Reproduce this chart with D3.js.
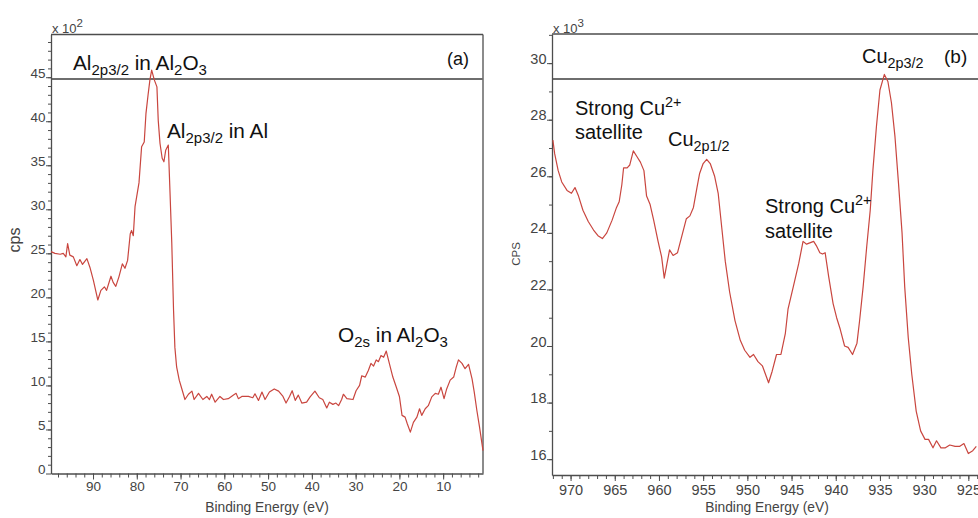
<!DOCTYPE html>
<html>
<head>
<meta charset="utf-8">
<script src="https://cdn.jsdelivr.net/npm/d3@7"></script>
<style>
  body { margin: 0; background: #fff; }
  svg { display: block; font-family: "Liberation Sans", Arial, sans-serif; }
</style>
</head>
<body>
<svg id="chart" width="978" height="518"></svg>
<script>
// (a) Al 2p / O 2s survey, counts in x10^2
const energyA = [99.6, 98.7, 97.5, 96.8, 96.2, 95.8, 95.3, 94.5, 93.7, 93.0,
  92.4, 91.4, 90.7, 89.9, 88.9, 88.2, 87.4, 86.9, 85.9, 85.4,
  84.8, 84.1, 83.3, 82.7, 82.1, 81.5, 81.2, 80.8, 80.4, 79.5,
  78.9, 78.3, 77.9, 77.4, 77.0, 76.6, 76.0, 75.4, 75.1, 74.7,
  74.2, 73.8, 73.4, 72.8, 72.4, 72.0, 71.6, 71.3, 70.9, 70.3,
  69.7, 69.0, 68.2, 67.4, 66.9, 65.9, 64.9, 64.0, 63.4, 62.9,
  62.1, 61.0, 60.2, 59.1, 57.9, 57.3, 56.8, 56.0, 54.5, 53.5,
  53.0, 52.2, 51.4, 50.7, 49.7, 48.6, 47.6, 46.6, 45.9, 45.1,
  44.5, 43.8, 43.1, 42.3, 41.2, 40.4, 39.3, 38.3, 37.5, 36.6,
  36.0, 35.2, 34.5, 33.9, 33.2, 32.8, 32.0, 30.6, 29.9, 29.1,
  28.6, 27.8, 27.1, 26.5, 25.9, 25.3, 24.8, 24.2, 23.6, 23.0,
  22.3, 21.5, 20.7, 20.0, 19.4, 18.7, 18.2, 17.5, 16.8, 16.0,
  15.4, 14.9, 14.1, 13.4, 12.6, 11.8, 11.1, 10.5, 9.8, 9.2,
  8.4, 7.6, 7.0, 6.5, 5.7, 5.0, 4.2, 3.4, 2.9, 2.3,
  1.7, 0.9];
const cpsA = [25.2, 25.0, 24.9, 25.0, 24.6, 26.1, 24.8, 24.6, 23.6, 24.3,
  23.75, 24.4, 23.4, 21.9, 19.7, 20.8, 21.2, 20.8, 22.4, 21.7,
  21.25, 22.3, 23.8, 23.3, 24.2, 27.2, 27.6, 27.0, 30.3, 33.0,
  37.1, 37.65, 40.9, 43.1, 44.7, 45.8, 44.7, 43.9, 40.1, 37.5,
  35.8, 35.4, 36.7, 37.3, 31.8, 26.1, 18.5, 14.35, 12.1, 10.6,
  9.6, 8.4, 9.0, 9.35, 8.4, 9.1, 8.4, 8.75, 8.4, 9.0,
  8.1, 8.75, 8.4, 8.5, 8.9, 9.1, 8.5, 8.75, 8.75, 8.6,
  9.05, 8.3, 9.25, 8.4, 9.25, 9.6, 9.35, 8.75, 8.0, 8.75,
  9.4, 8.3, 8.9, 8.0, 8.1, 8.7, 9.35, 8.6, 8.4, 7.45,
  8.1, 7.85, 8.0, 7.7, 8.4, 9.0, 8.5, 8.4, 9.4, 10.0,
  11.1, 10.95, 11.7, 12.5, 12.2, 12.9, 12.7, 13.4, 13.2, 13.9,
  12.5, 10.95, 9.8, 8.75, 6.6, 6.4, 5.65, 4.7, 5.8, 6.4,
  7.35, 6.6, 7.35, 7.7, 8.7, 9.1, 9.0, 9.8, 8.5, 9.6,
  10.6, 10.95, 12.1, 12.9, 12.5, 11.9, 12.4, 10.75, 9.25, 7.15,
  5.3, 2.6];

// (b) Cu 2p region, counts in x10^3
const energyB = [972.0, 971.8, 971.4, 971.0, 970.4, 969.9, 969.5, 969.1, 968.6, 968.0,
  967.4, 966.9, 966.4, 965.9, 965.3, 964.8, 964.5, 964.2, 964.0, 963.6,
  963.3, 962.9, 962.5, 962.1, 961.7, 961.4, 961.0, 960.6, 960.1, 959.7,
  959.4, 959.1, 958.8, 958.4, 957.9, 957.4, 956.9, 956.5, 956.1, 955.7,
  955.4, 955.0, 954.6, 954.2, 953.7, 953.3, 952.9, 952.5, 952.0, 951.4,
  950.8, 950.3, 949.7, 949.3, 948.8, 948.3, 947.6, 947.2, 946.7, 946.2,
  945.7, 945.4, 944.8, 944.2, 943.7, 943.3, 942.5, 942.2, 941.8, 941.5,
  941.2, 940.8, 940.3, 939.9, 939.5, 939.0, 938.6, 938.1, 937.6, 937.3,
  936.9, 936.5, 936.1, 935.8, 935.4, 935.0, 934.5, 934.1, 933.7, 933.3,
  932.9, 932.5, 932.2, 931.8, 931.4, 930.9, 930.4, 929.9, 929.5, 929.0,
  928.6, 928.1, 927.6, 927.1, 926.5, 926.0, 925.5, 925.0, 924.5, 924.1];
const cpsB = [27.28, 26.8, 26.2, 25.8, 25.5, 25.4, 25.6, 25.3, 24.8, 24.4,
  24.1, 23.9, 23.8, 24.0, 24.45, 24.9, 25.1, 25.7, 26.3, 26.3,
  26.4, 26.9, 26.7, 26.5, 26.2, 25.3, 25.0, 24.45, 23.7, 23.15,
  22.4, 22.9, 23.4, 23.2, 23.3, 23.9, 24.5, 24.6, 24.9, 25.6,
  26.1, 26.45, 26.6, 26.45, 26.0, 25.4, 24.2, 23.0, 21.9, 20.9,
  20.2, 19.85, 19.6, 19.7, 19.45, 19.3, 18.7, 19.1, 19.7, 19.7,
  20.45, 21.3, 22.1, 22.9, 23.7, 23.6, 23.7, 23.55, 23.3, 23.25,
  23.3, 22.45, 21.5, 21.0, 20.6, 20.0, 19.95, 19.7, 20.1, 20.9,
  22.1, 23.5, 24.8, 26.2, 27.75, 29.05, 29.6, 29.35, 28.6, 27.4,
  25.75, 24.0, 22.1, 20.3, 19.0, 17.7, 17.0, 16.7, 16.7, 16.4,
  16.65, 16.4, 16.4, 16.5, 16.45, 16.45, 16.55, 16.2, 16.3, 16.45];

const xTicksA = [90, 80, 70, 60, 50, 40, 30, 20, 10];
const yTicksA = [0, 5, 10, 15, 20, 25, 30, 35, 40, 45];
const xTicksB = [970, 965, 960, 955, 950, 945, 940, 935, 930, 925];
const yTicksB = [16, 18, 20, 22, 24, 26, 28, 30];

const svg = d3.select("#chart");
const lineColor = "#c9463f";
const axisColor = "#4d4d4d";

// text with sub/superscript parts
function richText(g, x, y, parts, size) {
  const t = g.append("text").attr("x", x).attr("y", y)
    .attr("font-size", size).attr("fill", "#111");
  let shift = 0;
  parts.forEach(([s, m]) => {
    const target = m === "sub" ? size * 0.26 : m === "sup" ? -size * 0.38 : 0;
    t.append("tspan")
      .attr("dy", target - shift)
      .attr("font-size", m === "n" ? size : size * 0.72)
      .text(s);
    shift = target;
  });
}

function panel(cfg) {
  const g = svg.append("g");
  const x = d3.scaleLinear().domain(cfg.xDomain).range([cfg.left, cfg.right]);
  const y = d3.scaleLinear().domain(cfg.yDomain).range([cfg.bottom, cfg.top]);

  // frame
  g.append("line").attr("x1", cfg.left).attr("x2", cfg.right)
    .attr("y1", cfg.top).attr("y2", cfg.top)
    .attr("stroke", axisColor).attr("stroke-width", 1.3);
  if (cfg.right < 978) {
    g.append("line").attr("x1", cfg.right).attr("x2", cfg.right)
      .attr("y1", cfg.top).attr("y2", cfg.bottom)
      .attr("stroke", axisColor).attr("stroke-width", 1.3);
  }
  // header strip line
  g.append("line").attr("x1", cfg.left).attr("x2", cfg.right)
    .attr("y1", cfg.strip).attr("y2", cfg.strip)
    .attr("stroke", "#6e6e6e").attr("stroke-width", 1.8);

  // minor ticks
  g.append("g").attr("transform", `translate(0,${cfg.bottom})`)
    .call(d3.axisBottom(x).tickValues(cfg.xMinor).tickSize(4).tickFormat(""))
    .call(a => a.select(".domain").remove())
    .selectAll("line").attr("stroke", axisColor);
  g.append("g").attr("transform", `translate(${cfg.left},0)`)
    .call(d3.axisLeft(y).tickValues(cfg.yMinor).tickSize(3).tickFormat(""))
    .call(a => a.select(".domain").remove())
    .selectAll("line").attr("stroke", axisColor);

  // major axes
  const xa = g.append("g").attr("transform", `translate(0,${cfg.bottom})`)
    .call(d3.axisBottom(x).tickValues(cfg.xTicks).tickSize(6).tickPadding(cfg.xPad).tickSizeOuter(0));
  xa.select(".domain").attr("stroke", axisColor).attr("stroke-width", 1.3);
  xa.selectAll("line").attr("stroke", axisColor);
  xa.selectAll("text").attr("fill", "#444").attr("font-size", cfg.tickFont)
    .attr("font-family", "Liberation Sans, Arial, sans-serif");

  const ya = g.append("g").attr("transform", `translate(${cfg.left},0)`)
    .call(d3.axisLeft(y).tickValues(cfg.yTicks).tickSize(5).tickPadding(0.5).tickSizeOuter(0));
  ya.select(".domain").attr("stroke", axisColor).attr("stroke-width", 1.3);
  ya.selectAll("line").attr("stroke", axisColor);
  ya.selectAll("text").attr("fill", "#444").attr("font-size", cfg.tickFont)
    .attr("dy", "0").attr("font-family", "Liberation Sans, Arial, sans-serif");

  // axis titles
  g.append("text").attr("x", cfg.xTitleX).attr("y", 512).attr("text-anchor", "middle")
    .attr("font-size", 13.8).attr("fill", "#444").text("Binding Energy (eV)");
  g.append("text").attr("transform", `translate(${cfg.yTitleX},${cfg.yTitleY}) rotate(-90)`)
    .attr("text-anchor", "middle").attr("font-size", cfg.yTitleFont).attr("fill", "#444")
    .text(cfg.yTitle);

  // multiplier
  const m = g.append("text").attr("x", cfg.left + 1).attr("y", 33).attr("font-size", 13).attr("fill", "#444");
  m.append("tspan").text("x 10");
  m.append("tspan").attr("dy", -6).attr("font-size", 11.5).text(cfg.power);

  // spectrum
  const pts = cfg.energy.map((e, i) => [e, cfg.cps[i]]);
  g.append("path").datum(pts)
    .attr("fill", "none").attr("stroke", lineColor).attr("stroke-width", 1.2)
    .attr("stroke-linejoin", "round")
    .attr("d", d3.line().x(d => x(d[0])).y(d => y(d[1])));

  return g;
}

const gA = panel({
  left: 51, right: 483, top: 34.5, bottom: 473.5, strip: 79,
  xDomain: [99.6, 0.9], yDomain: [0, 49.85],
  xTicks: xTicksA, yTicks: yTicksA,
  xMinor: d3.range(98, 1, -2), yMinor: d3.range(1, 50, 1),
  xPad: 2, tickFont: 13.5,
  xTitleX: 267, yTitle: "cps", yTitleX: 20, yTitleY: 240, yTitleFont: 16,
  power: "2", energy: energyA, cps: cpsA
});
richText(gA, 73, 70, [["Al", "n"], ["2p3/2", "sub"], [" in Al", "n"], ["2", "sub"], ["O", "n"], ["3", "sub"]], 20.8);
richText(gA, 167, 138, [["Al", "n"], ["2p3/2", "sub"], [" in Al", "n"]], 20.8);
richText(gA, 338, 342, [["O", "n"], ["2s", "sub"], [" in Al", "n"], ["2", "sub"], ["O", "n"], ["3", "sub"]], 20.8);
richText(gA, 447, 65, [["(a)", "n"]], 18);

const gB = panel({
  left: 552, right: 990, top: 34, bottom: 475, strip: 79,
  xDomain: [972.1, 922.55], yDomain: [15.44, 31.03],
  xTicks: xTicksB, yTicks: yTicksB,
  xMinor: d3.range(972, 922, -1), yMinor: d3.range(16, 31.5, 1),
  xPad: 4, tickFont: 14.5,
  xTitleX: 767, yTitle: "CPS", yTitleX: 520, yTitleY: 254, yTitleFont: 11.5,
  power: "3", energy: energyB, cps: cpsB
});
richText(gB, 862, 63, [["Cu", "n"], ["2p3/2", "sub"]], 20);
richText(gB, 944, 63, [["(b)", "n"]], 19);
richText(gB, 575, 115, [["Strong Cu", "n"], ["2+", "sup"]], 20);
richText(gB, 575, 139, [["satellite", "n"]], 20);
richText(gB, 668, 146, [["Cu", "n"], ["2p1/2", "sub"]], 20);
richText(gB, 765, 213, [["Strong Cu", "n"], ["2+", "sup"]], 20);
richText(gB, 765, 238, [["satellite", "n"]], 20);
</script>
</body>
</html>
